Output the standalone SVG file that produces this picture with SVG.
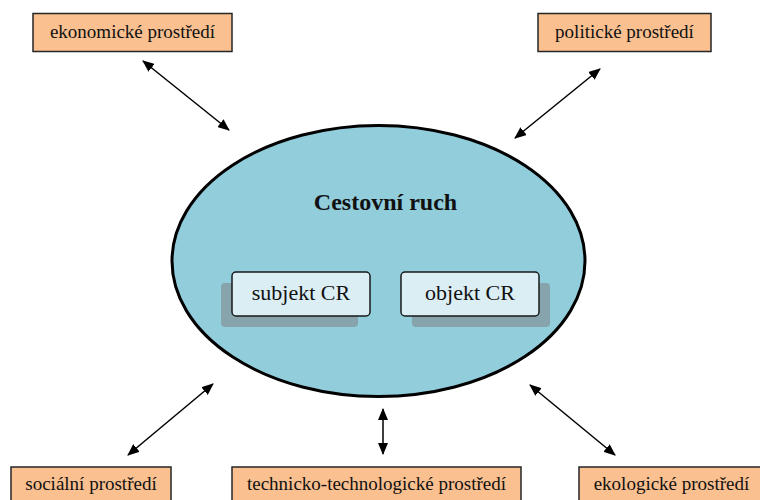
<svg xmlns="http://www.w3.org/2000/svg" width="760" height="500" viewBox="0 0 760 500" font-family="Liberation Serif, Times New Roman, serif">
<style>
text{font-family:'Liberation Serif','Times New Roman',serif;fill:#111;text-anchor:middle}
.env rect{fill:#FAC090;stroke:#262626;stroke-width:1.5}
.env text{font-size:19px}
.sub .sh{fill:#87A3AB}
.sub .bx{fill:#DBEEF4;stroke:#1a1a1a;stroke-width:1.5}
.sub text{font-size:22px}
.conn line{stroke:#000;stroke-width:1.5;marker-start:url(#ah);marker-end:url(#ah)}
</style>
<defs>
<marker id="ah" viewBox="0 0 12 10" refX="11" refY="5" markerWidth="12" markerHeight="10" markerUnits="userSpaceOnUse" orient="auto-start-reverse">
<path d="M0,0 L12,5 L0,10 Z" fill="#000"/>
</marker>
</defs>
<rect width="760" height="500" fill="#fff"/>
<g id="cestovni-ruch">
<ellipse cx="378.5" cy="261" rx="206.5" ry="135.5" fill="#92CDDC" stroke="#000" stroke-width="3"/>
<text x="385.5" y="210" font-size="24" font-weight="bold">Cestovní ruch</text>
</g>
<g id="subjekt" class="sub">
<rect class="sh" x="221" y="283" width="137" height="44" rx="4"/>
<rect class="bx" x="232" y="272" width="138" height="44" rx="4"/>
<text x="301" y="300">subjekt CR</text>
</g>
<g id="objekt" class="sub">
<rect class="sh" x="412" y="283" width="138" height="44" rx="4"/>
<rect class="bx" x="401" y="272" width="138" height="44" rx="4"/>
<text x="470" y="300">objekt CR</text>
</g>
<g id="ekonomicke" class="env">
<rect x="33" y="13.5" width="199" height="38"/>
<text x="132.5" y="38">ekonomické prostředí</text>
</g>
<g id="politicke" class="env">
<rect x="538" y="13.5" width="173" height="38"/>
<text x="624.5" y="38">politické prostředí</text>
</g>
<g id="socialni" class="env">
<rect x="11" y="467" width="160" height="40"/>
<text x="91" y="490">sociální prostředí</text>
</g>
<g id="technicko" class="env">
<rect x="232" y="467" width="289" height="40"/>
<text x="376.5" y="490">technicko-technologické prostředí</text>
</g>
<g id="ekologicke" class="env">
<rect x="579" y="467" width="185" height="40"/>
<text x="671.5" y="490">ekologické prostředí</text>
</g>
<g id="connectors" class="conn">
<line x1="143" y1="61" x2="229" y2="130"/>
<line x1="600" y1="69" x2="515" y2="138"/>
<line x1="128" y1="455" x2="213" y2="384"/>
<line x1="383" y1="409" x2="383" y2="454"/>
<line x1="615" y1="455" x2="530" y2="385"/>
</g>
</svg>
